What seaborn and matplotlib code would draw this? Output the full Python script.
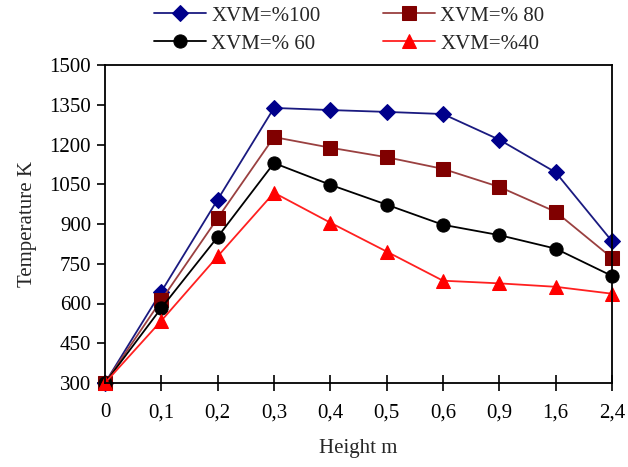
import matplotlib
matplotlib.use("Agg")
import matplotlib.pyplot as plt
import seaborn as sns
import pandas as pd

heights = ['0', '0,1', '0,2', '0,3', '0,4', '0,5', '0,6', '0,9', '1,6', '2,4']
xvm100 = [300, 645, 992, 1338, 1330, 1323, 1315, 1218, 1095, 835]
xvm80 = [300, 613, 922, 1228, 1188, 1152, 1108, 1040, 946, 772]
xvm60 = [300, 583, 851, 1130, 1048, 973, 897, 858, 807, 704]
xvm40 = [300, 535, 778, 1018, 905, 796, 686, 676, 663, 637]
labels = ['XVM=%100', 'XVM=% 80', 'XVM=% 60', 'XVM=%40']
yticks = [300, 450, 600, 750, 900, 1050, 1200, 1350, 1500]

sns.set_style("ticks")
plt.rcParams['font.family'] = ['Liberation Serif', 'DejaVu Serif']
plt.rcParams['font.size'] = 15

fig = plt.figure(figsize=(6.28, 4.67), dpi=100)
ax = fig.add_axes([105/628, 1-383/467, (612-105)/628, (383-65)/467])

series = [
    (xvm100, labels[0], '#00008B', '#1a1a80', 'D', 8),
    (xvm80, labels[1], '#800000', '#9a4040', 's', 9.5),
    (xvm60, labels[2], 'black', 'black', 'o', 9.5),
    (xvm40, labels[3], '#FF0000', '#FF2020', '^', 10),
]
for vals, lab, mc, lc, mk, ms in series:
    df = pd.DataFrame({'Height': heights, 'Temp': vals})
    sns.lineplot(data=df, x='Height', y='Temp', ax=ax, sort=False, color=lc,
                 marker=mk, markersize=ms, markerfacecolor=mc, markeredgecolor=mc,
                 linewidth=1.3, label=lab, clip_on=False)
ax.get_legend().remove()
h, l = ax.get_legend_handles_labels()
order = [0, 2, 1, 3]
fig.legend([h[i] for i in order], [l[i] for i in order], ncol=2, loc='upper left',
           bbox_to_anchor=(152/628, 1 - 4/467), frameon=False, handlelength=2.5,
           columnspacing=3.0, labelspacing=0.4, handletextpad=0.25, borderaxespad=0.0,
           borderpad=0.1, fontsize=15)

ax.set_xlim(0, 9)
ax.set_ylim(300, 1500)
ax.set_yticks(yticks)
ax.set_xticks(range(len(heights)))
ax.set_xticklabels(heights)
for s in ax.spines.values():
    s.set_visible(True)
    s.set_linewidth(1.3)
    s.set_color('black')
ax.tick_params(axis='x', direction='inout', length=11, width=1.2, pad=9, colors='black')
ax.tick_params(axis='y', direction='out', length=6, width=1.2, pad=4, colors='black')
ax.set_xlabel('Height m', fontsize=15, labelpad=12)
ax.set_ylabel('Temperature K', fontsize=15, labelpad=9)

fig.savefig('out.png', dpi=100)
